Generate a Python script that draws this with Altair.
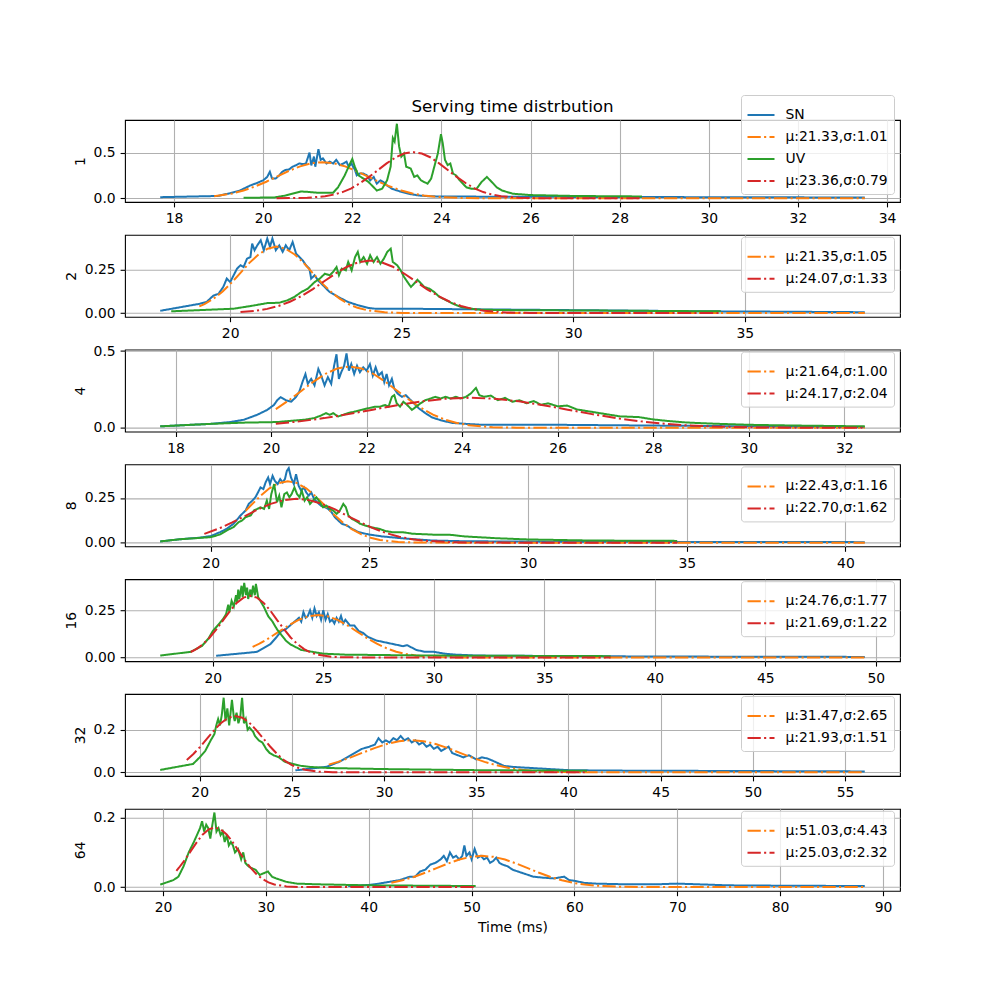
import altair as alt
import pandas as pd

# ---------------- data ----------------
P1_SN = [(17.69,0.012),(18.98,0.025),(19.25,0.055),(19.48,0.085),(19.71,0.14),(19.86,0.167),(20.0,0.196),(20.09,0.233),(20.15,0.29),(20.2,0.215),(20.28,0.215),(20.36,0.25),(20.43,0.29),(20.5,0.31),(20.58,0.315),(20.66,0.345),(20.73,0.36),(20.81,0.38),(20.89,0.374),(20.96,0.38),(21.04,0.5),(21.08,0.36),(21.14,0.455),(21.17,0.345),(21.24,0.537),(21.29,0.42),(21.34,0.437),(21.42,0.38),(21.49,0.4),(21.57,0.38),(21.64,0.42),(21.72,0.363),(21.8,0.38),(21.87,0.4),(21.92,0.345),(21.98,0.38),(22.06,0.31),(22.1,0.25),(22.17,0.27),(22.25,0.27),(22.33,0.25),(22.4,0.196),(22.48,0.233),(22.55,0.16),(22.63,0.196),(22.7,0.178),(22.78,0.14),(22.89,0.104),(23.05,0.078),(23.27,0.048),(23.5,0.03),(23.73,0.022),(24.03,0.019),(24.79,0.018),(26.0,0.016),(28.0,0.014),(30.0,0.012),(32.0,0.01),(33.5,0.008)]
P1_UV = [(19.56,0.006),(20.24,0.008),(20.5,0.03),(20.85,0.074),(21.0,0.07),(21.23,0.06),(21.57,0.06),(21.68,0.12),(21.83,0.25),(21.95,0.38),(22.0,0.43),(22.06,0.34),(22.14,0.25),(22.25,0.215),(22.36,0.18),(22.48,0.12),(22.55,0.085),(22.67,0.104),(22.78,0.196),(22.86,0.345),(22.91,0.66),(22.95,0.62),(23.0,0.815),(23.05,0.567),(23.1,0.455),(23.16,0.49),(23.21,0.345),(23.31,0.326),(23.39,0.233),(23.46,0.25),(23.54,0.196),(23.61,0.178),(23.69,0.16),(23.77,0.215),(23.84,0.345),(23.92,0.49),(23.99,0.7),(24.03,0.6),(24.08,0.42),(24.14,0.363),(24.2,0.38),(24.26,0.27),(24.33,0.25),(24.41,0.196),(24.48,0.16),(24.56,0.12),(24.67,0.104),(24.79,0.104),(24.9,0.178),(25.02,0.233),(25.13,0.178),(25.24,0.12),(25.36,0.085),(25.6,0.05),(26.0,0.035),(27.0,0.025),(28.5,0.02)]
P1_FIT1 = [(18.9,0.022),(19.31,0.053),(19.56,0.085),(19.81,0.128),(20.07,0.181),(20.32,0.240),(20.57,0.298),(20.83,0.349),(21.08,0.383),(21.33,0.395),(21.58,0.383),(21.84,0.349),(22.09,0.298),(22.34,0.240),(22.59,0.181),(22.85,0.128),(23.10,0.085),(23.35,0.053),(23.6,0.031),(23.86,0.017),(24.36,0.0044),(24.87,0.0009),(26.0,0.0),(33.5,0.0)]
P1_FIT2 = [(20.3,0.0003),(20.99,0.0056),(21.39,0.022),(21.58,0.040),(21.78,0.068),(21.98,0.109),(22.17,0.164),(22.37,0.231),(22.57,0.306),(22.77,0.381),(22.97,0.446),(23.16,0.489),(23.36,0.505),(23.56,0.489),(23.76,0.446),(23.95,0.381),(24.15,0.306),(24.35,0.231),(24.55,0.164),(24.74,0.109),(24.94,0.068),(25.14,0.040),(25.34,0.022),(25.73,0.0056),(26.12,0.0011),(27.0,0.0),(28.5,0.0)]

P2_SN = [(17.96,0.013),(19.11,0.053),(19.31,0.063),(19.51,0.1),(19.66,0.11),(19.8,0.15),(19.9,0.197),(20.0,0.177),(20.1,0.216),(20.2,0.254),(20.3,0.273),(20.39,0.263),(20.49,0.311),(20.59,0.32),(20.64,0.397),(20.71,0.359),(20.79,0.387),(20.89,0.416),(20.98,0.359),(21.08,0.426),(21.16,0.378),(21.23,0.426),(21.33,0.359),(21.43,0.387),(21.53,0.35),(21.62,0.387),(21.72,0.359),(21.82,0.406),(21.92,0.34),(22.02,0.32),(22.12,0.3),(22.21,0.273),(22.31,0.254),(22.36,0.197),(22.46,0.216),(22.56,0.187),(22.71,0.158),(22.9,0.12),(23.15,0.092),(23.44,0.063),(23.74,0.044),(24.04,0.029),(24.23,0.025),(25.02,0.025),(28.0,0.02),(31.0,0.015),(34.0,0.01),(36.0,0.008),(38.5,0.005)]
P2_UV = [(18.28,0.01),(20.1,0.025),(20.59,0.04),(21.08,0.057),(21.43,0.059),(21.67,0.073),(21.87,0.092),(22.07,0.12),(22.26,0.139),(22.46,0.177),(22.61,0.197),(22.76,0.225),(22.9,0.216),(23.0,0.235),(23.1,0.263),(23.17,0.216),(23.25,0.254),(23.37,0.244),(23.44,0.292),(23.54,0.244),(23.64,0.32),(23.72,0.35),(23.79,0.292),(23.89,0.32),(23.99,0.282),(24.08,0.33),(24.18,0.292),(24.28,0.32),(24.38,0.282),(24.48,0.311),(24.58,0.35),(24.68,0.368),(24.74,0.292),(24.87,0.273),(24.97,0.244),(25.07,0.206),(25.17,0.177),(25.27,0.149),(25.36,0.168),(25.46,0.19),(25.56,0.17),(25.66,0.149),(25.81,0.139),(25.95,0.12),(26.1,0.092),(26.3,0.073),(26.5,0.053),(26.74,0.034),(27.2,0.02),(28.0,0.017),(31.0,0.014),(34.3,0.01)]
P2_FIT1 = [(19.1,0.038),(19.25,0.051),(19.51,0.082),(19.78,0.123),(20.04,0.174),(20.3,0.230),(20.56,0.287),(20.83,0.335),(21.09,0.368),(21.35,0.380),(21.61,0.368),(21.88,0.335),(22.14,0.287),(22.4,0.230),(22.66,0.174),(22.93,0.123),(23.19,0.082),(23.45,0.051),(23.71,0.030),(23.98,0.017),(24.5,0.0042),(25.03,0.0008),(26.0,0.0),(38.5,0.0)]
P2_FIT2 = [(20.3,0.0055),(20.75,0.0132),(21.08,0.0239),(21.41,0.0406),(21.74,0.0649),(22.08,0.0974),(22.41,0.137),(22.74,0.182),(23.07,0.226),(23.41,0.265),(23.74,0.291),(24.07,0.300),(24.4,0.291),(24.74,0.265),(25.07,0.226),(25.4,0.182),(25.73,0.137),(26.07,0.0974),(26.4,0.0649),(26.73,0.0406),(27.06,0.0239),(27.4,0.0132),(28.06,0.0033),(28.73,0.0007),(30.0,0.0),(34.3,0.0)]

P3_SN = [(17.68,0.01),(18.73,0.026),(19.15,0.038),(19.43,0.053),(19.71,0.085),(19.92,0.117),(20.06,0.149),(20.13,0.18),(20.2,0.2),(20.31,0.18),(20.42,0.17),(20.52,0.2),(20.59,0.234),(20.66,0.3),(20.72,0.35),(20.77,0.287),(20.84,0.319),(20.91,0.277),(20.99,0.383),(21.05,0.34),(21.12,0.277),(21.19,0.33),(21.26,0.287),(21.32,0.404),(21.37,0.479),(21.42,0.319),(21.47,0.362),(21.53,0.404),(21.58,0.485),(21.63,0.372),(21.68,0.415),(21.74,0.351),(21.8,0.404),(21.86,0.362),(21.93,0.394),(22.0,0.372),(22.07,0.415),(22.13,0.34),(22.19,0.394),(22.25,0.34),(22.32,0.362),(22.37,0.298),(22.42,0.351),(22.47,0.277),(22.53,0.319),(22.58,0.255),(22.65,0.223),(22.74,0.202),(22.82,0.213),(22.89,0.191),(22.99,0.16),(23.09,0.128),(23.23,0.096),(23.37,0.068),(23.58,0.047),(23.8,0.032),(24.08,0.026),(24.36,0.021),(26.0,0.02),(28.0,0.015),(30.0,0.01),(32.43,0.005)]
P3_UV = [(17.68,0.01),(18.73,0.026),(19.43,0.034),(20.13,0.038),(20.7,0.053),(20.91,0.064),(21.05,0.081),(21.15,0.096),(21.23,0.085),(21.3,0.096),(21.4,0.074),(21.51,0.085),(21.61,0.096),(21.75,0.106),(21.89,0.117),(22.04,0.128),(22.18,0.138),(22.28,0.138),(22.39,0.149),(22.46,0.138),(22.53,0.202),(22.58,0.213),(22.63,0.16),(22.7,0.138),(22.77,0.17),(22.85,0.149),(22.95,0.117),(23.04,0.138),(23.13,0.16),(23.23,0.18),(23.34,0.191),(23.44,0.202),(23.55,0.191),(23.65,0.202),(23.76,0.191),(23.87,0.202),(23.97,0.191),(24.08,0.202),(24.18,0.223),(24.29,0.26),(24.36,0.213),(24.46,0.202),(24.6,0.21),(24.75,0.18),(24.9,0.195),(25.05,0.17),(25.2,0.18),(25.35,0.16),(25.5,0.175),(25.65,0.15),(25.8,0.16),(26.0,0.14),(26.2,0.145),(26.4,0.12),(26.6,0.11),(26.8,0.1),(27.0,0.09),(27.3,0.075),(27.7,0.07),(28.0,0.055),(28.3,0.045),(28.7,0.035),(29.2,0.028),(30.0,0.02),(31.0,0.015),(32.43,0.01)]
P3_FIT1 = [(20.1,0.122),(20.39,0.183),(20.64,0.242),(20.89,0.301),(21.14,0.352),(21.39,0.387),(21.64,0.399),(21.89,0.387),(22.14,0.352),(22.39,0.301),(22.64,0.242),(22.89,0.183),(23.14,0.130),(23.39,0.086),(23.64,0.054),(23.89,0.032),(24.14,0.0175),(24.64,0.0044),(25.14,0.0009),(26.0,0.0),(32.43,0.0)]
P3_FIT2 = [(20.1,0.0265),(20.6,0.0423),(21.11,0.0635),(21.62,0.0895),(22.13,0.1186),(22.64,0.1476),(23.15,0.1726),(23.66,0.1896),(24.17,0.1956),(24.68,0.1896),(25.19,0.1726),(25.7,0.1476),(26.21,0.1186),(26.72,0.0895),(27.23,0.0635),(27.74,0.0423),(28.25,0.0265),(28.76,0.0156),(29.27,0.0086),(30.29,0.0022),(31.31,0.0004),(32.43,0.0)]

P4_SN = [(18.41,0.007),(19.02,0.019),(19.66,0.028),(20.0,0.037),(20.3,0.059),(20.51,0.078),(20.72,0.106),(20.94,0.152),(21.1,0.18),(21.2,0.217),(21.31,0.235),(21.41,0.254),(21.49,0.281),(21.57,0.309),(21.66,0.3),(21.73,0.337),(21.81,0.365),(21.87,0.328),(21.95,0.374),(22.02,0.346),(22.11,0.328),(22.19,0.356),(22.27,0.337),(22.34,0.356),(22.4,0.402),(22.46,0.417),(22.53,0.365),(22.62,0.328),(22.69,0.383),(22.77,0.319),(22.85,0.291),(22.94,0.309),(23.01,0.281),(23.09,0.263),(23.17,0.281),(23.26,0.244),(23.36,0.226),(23.47,0.207),(23.6,0.198),(23.7,0.189),(23.81,0.17),(23.91,0.143),(24.02,0.124),(24.13,0.106),(24.29,0.096),(24.45,0.078),(24.66,0.059),(24.98,0.046),(25.4,0.035),(25.94,0.026),(26.36,0.02),(27.0,0.012),(28.0,0.008),(30.0,0.006),(35.0,0.004),(40.61,0.003)]
P4_UV = [(18.41,0.007),(19.02,0.019),(20.0,0.031),(20.3,0.046),(20.51,0.069),(20.72,0.087),(20.88,0.115),(20.99,0.124),(21.1,0.143),(21.26,0.152),(21.36,0.18),(21.47,0.189),(21.57,0.198),(21.68,0.189),(21.77,0.235),(21.84,0.189),(21.91,0.272),(22.0,0.328),(22.09,0.226),(22.16,0.263),(22.23,0.198),(22.32,0.272),(22.4,0.281),(22.48,0.254),(22.55,0.272),(22.64,0.309),(22.72,0.272),(22.8,0.254),(22.87,0.291),(22.96,0.235),(23.04,0.254),(23.13,0.217),(23.22,0.235),(23.33,0.254),(23.44,0.226),(23.54,0.198),(23.65,0.207),(23.76,0.189),(23.86,0.18),(23.97,0.161),(24.07,0.18),(24.18,0.217),(24.26,0.198),(24.34,0.152),(24.45,0.133),(24.55,0.124),(24.71,0.106),(24.87,0.096),(25.03,0.087),(25.3,0.078),(25.51,0.065),(25.72,0.059),(26.04,0.059),(26.36,0.05),(27.0,0.045),(27.5,0.045),(28.0,0.035),(29.0,0.025),(30.0,0.018),(32.0,0.012),(34.7,0.01)]
P4_FIT1 = [(21.1,0.178),(21.27,0.209),(21.56,0.260),(21.85,0.304),(22.14,0.333),(22.43,0.344),(22.72,0.333),(23.01,0.304),(23.3,0.260),(23.59,0.209),(23.88,0.157),(24.17,0.112),(24.46,0.074),(24.75,0.0466),(25.04,0.0274),(25.33,0.0151),(25.91,0.0038),(26.49,0.0008),(28.0,0.0),(40.61,0.0)]
P4_FIT2 = [(19.8,0.049),(20.27,0.080),(20.68,0.113),(21.08,0.149),(21.49,0.186),(21.89,0.217),(22.3,0.238),(22.7,0.246),(23.1,0.238),(23.51,0.217),(23.92,0.186),(24.32,0.149),(24.73,0.113),(25.13,0.080),(25.54,0.053),(25.94,0.033),(26.35,0.0196),(26.75,0.0108),(27.56,0.0027),(28.37,0.0005),(30.0,0.0),(34.7,0.0)]

P5_SN = [(20.15,0.009),(21.6,0.025),(22.0,0.03),(22.3,0.05),(22.6,0.07),(22.9,0.11),(23.1,0.14),(23.3,0.15),(23.5,0.17),(23.7,0.19),(23.9,0.21),(24.0,0.19),(24.1,0.24),(24.2,0.21),(24.3,0.22),(24.4,0.25),(24.5,0.21),(24.6,0.26),(24.7,0.22),(24.8,0.24),(24.9,0.20),(25.0,0.25),(25.1,0.20),(25.2,0.23),(25.3,0.19),(25.4,0.20),(25.5,0.18),(25.6,0.21),(25.7,0.19),(25.8,0.22),(25.9,0.18),(26.0,0.2),(26.2,0.17),(26.4,0.17),(26.6,0.14),(26.8,0.13),(27.0,0.11),(27.2,0.10),(27.4,0.09),(27.8,0.08),(28.2,0.07),(28.6,0.06),(28.8,0.065),(29.2,0.04),(29.6,0.03),(30.0,0.03),(30.5,0.02),(31.0,0.015),(32.0,0.01),(40.0,0.005),(49.5,0.003)]
P5_UV = [(17.62,0.01),(19.0,0.03),(19.5,0.06),(19.8,0.1),(20.0,0.14),(20.3,0.18),(20.5,0.21),(20.6,0.23),(20.7,0.28),(20.75,0.24),(20.85,0.3),(20.95,0.27),(21.05,0.33),(21.1,0.29),(21.15,0.36),(21.2,0.31),(21.3,0.38),(21.35,0.32),(21.42,0.395),(21.5,0.33),(21.55,0.37),(21.6,0.31),(21.7,0.36),(21.75,0.32),(21.82,0.38),(21.9,0.33),(21.95,0.39),(22.05,0.32),(22.15,0.3),(22.3,0.27),(22.5,0.22),(22.7,0.19),(22.9,0.15),(23.1,0.12),(23.3,0.09),(23.5,0.07),(24.0,0.04),(24.5,0.03),(25.0,0.02),(26.0,0.015),(30.0,0.01),(38.0,0.007)]
P5_FIT1 = [(21.8,0.056),(22.11,0.0732),(22.55,0.103),(22.99,0.137),(23.43,0.170),(23.88,0.199),(24.32,0.218),(24.76,0.2254),(25.2,0.218),(25.65,0.199),(26.09,0.170),(26.53,0.137),(26.97,0.103),(27.42,0.0732),(27.86,0.0488),(28.3,0.0305),(28.75,0.0179),(29.19,0.0099),(30.07,0.0025),(30.96,0.0005),(33.0,0.0),(49.5,0.0)]
P5_FIT2 = [(19.0,0.029),(19.25,0.0442),(19.56,0.0707),(19.86,0.106),(20.17,0.150),(20.47,0.198),(20.78,0.247),(21.08,0.289),(21.39,0.317),(21.69,0.327),(22.0,0.317),(22.3,0.289),(22.61,0.247),(22.91,0.198),(23.22,0.150),(23.52,0.106),(23.83,0.0707),(24.13,0.0442),(24.44,0.026),(24.74,0.0144),(25.35,0.0036),(25.96,0.0007),(28.0,0.0),(38.0,0.0)]

P6_SN = [(25.19,0.009),(26.9,0.026),(27.3,0.04),(27.6,0.05),(28.0,0.07),(28.4,0.09),(28.8,0.11),(29.2,0.12),(29.5,0.13),(29.7,0.16),(29.9,0.14),(30.1,0.15),(30.3,0.14),(30.5,0.16),(30.7,0.15),(30.9,0.17),(31.1,0.15),(31.3,0.16),(31.5,0.14),(31.7,0.15),(31.9,0.13),(32.1,0.14),(32.3,0.12),(32.5,0.13),(32.7,0.11),(32.9,0.12),(33.1,0.10),(33.3,0.11),(33.5,0.12),(33.7,0.09),(34.0,0.08),(34.3,0.07),(34.6,0.08),(35.0,0.06),(35.3,0.07),(35.6,0.065),(36.0,0.05),(36.5,0.03),(37.0,0.025),(38.0,0.02),(39.0,0.015),(40.0,0.01),(42.0,0.008),(56.07,0.004)]
P6_UV = [(17.86,0.011),(19.64,0.039),(20.0,0.07),(20.3,0.1),(20.6,0.15),(20.8,0.18),(20.9,0.22),(21.0,0.25),(21.1,0.22),(21.2,0.27),(21.3,0.35),(21.4,0.24),(21.5,0.30),(21.6,0.22),(21.75,0.34),(21.85,0.26),(21.9,0.24),(22.0,0.28),(22.1,0.23),(22.2,0.26),(22.3,0.35),(22.4,0.23),(22.5,0.25),(22.6,0.2),(22.7,0.21),(22.9,0.19),(23.0,0.17),(23.2,0.15),(23.4,0.14),(23.6,0.11),(23.8,0.09),(24.0,0.08),(24.3,0.07),(24.6,0.05),(25.0,0.04),(25.5,0.03),(26.0,0.025),(27.0,0.02),(30.0,0.015),(35.0,0.01),(41.0,0.007)]
P6_FIT1 = [(27.0,0.036),(27.5,0.0489),(28.16,0.0689),(28.82,0.0913),(29.48,0.1136),(30.15,0.1328),(30.81,0.1459),(31.47,0.1505),(32.13,0.1459),(32.8,0.1328),(33.46,0.1136),(34.12,0.0913),(34.78,0.0689),(35.45,0.0489),(36.11,0.0326),(36.77,0.0204),(37.43,0.0120),(38.1,0.0066),(39.42,0.0017),(40.75,0.0003),(43.0,0.0),(56.07,0.0)]
P6_FIT2 = [(19.3,0.058),(19.66,0.0857),(20.04,0.121),(20.42,0.160),(20.8,0.199),(21.18,0.233),(21.55,0.256),(21.93,0.264),(22.31,0.256),(22.69,0.233),(23.06,0.199),(23.44,0.160),(23.82,0.121),(24.2,0.0857),(24.57,0.0571),(24.95,0.0357),(25.33,0.0210),(25.71,0.0116),(26.46,0.0029),(27.22,0.0006),(30.0,0.0),(41.0,0.0)]

P7_SN = [(38.0,0.003),(40.0,0.006),(41.0,0.01),(42.0,0.015),(43.0,0.02),(44.0,0.03),(44.5,0.03),(45.0,0.045),(45.5,0.05),(46.0,0.065),(46.5,0.07),(47.0,0.08),(47.3,0.09),(47.6,0.075),(47.9,0.1),(48.2,0.085),(48.5,0.09),(48.8,0.08),(49.1,0.09),(49.3,0.12),(49.5,0.09),(49.8,0.1),(50.0,0.08),(50.3,0.11),(50.6,0.085),(50.9,0.09),(51.2,0.08),(51.5,0.085),(51.8,0.07),(52.1,0.075),(52.4,0.085),(52.7,0.07),(53.0,0.065),(53.5,0.06),(54.0,0.05),(54.5,0.045),(55.0,0.04),(56.0,0.03),(57.0,0.027),(58.0,0.025),(59.0,0.03),(59.5,0.02),(60.0,0.018),(61.0,0.012),(62.0,0.01),(65.0,0.008),(68.0,0.008),(70.0,0.01),(72.0,0.008),(75.0,0.005),(80.0,0.004),(88.23,0.003)]
P7_UV = [(19.73,0.007),(20.5,0.015),(21.0,0.02),(21.5,0.03),(22.0,0.06),(22.5,0.10),(23.0,0.13),(23.3,0.15),(23.6,0.17),(23.8,0.19),(24.0,0.16),(24.2,0.18),(24.4,0.17),(24.6,0.14),(24.8,0.18),(25.0,0.215),(25.2,0.16),(25.4,0.17),(25.6,0.15),(25.8,0.16),(26.0,0.13),(26.2,0.15),(26.4,0.12),(26.6,0.13),(26.8,0.12),(27.0,0.10),(27.3,0.11),(27.6,0.08),(27.8,0.10),(28.0,0.07),(28.3,0.06),(28.6,0.055),(29.0,0.05),(29.4,0.035),(29.8,0.04),(30.2,0.045),(30.6,0.03),(31.0,0.025),(32.0,0.015),(33.0,0.01),(35.0,0.008),(40.0,0.005),(50.4,0.003)]
P7_FIT1 = [(42.2,0.0122),(43.28,0.0195),(44.38,0.0292),(45.49,0.0412),(46.6,0.0546),(47.71,0.0679),(48.82,0.0794),(49.92,0.0872),(51.03,0.090),(52.14,0.0872),(53.25,0.0794),(54.35,0.0679),(55.46,0.0546),(56.57,0.0412),(57.68,0.0292),(58.78,0.0195),(59.89,0.0122),(61.0,0.0072),(62.1,0.0040),(64.3,0.0010),(66.5,0.0002),(70.0,0.0),(88.23,0.0)]
P7_FIT2 = [(21.3,0.047),(21.55,0.0558),(22.13,0.0787),(22.71,0.1043),(23.29,0.1298),(23.87,0.1518),(24.45,0.1667),(25.03,0.172),(25.61,0.1667),(26.19,0.1518),(26.77,0.1298),(27.35,0.1043),(27.93,0.0787),(28.51,0.0558),(29.09,0.0372),(29.67,0.0233),(30.25,0.0137),(30.83,0.0075),(31.99,0.0019),(33.15,0.0004),(36.0,0.0),(50.4,0.0)]

PANEL_NAMES = ["1", "2", "4", "8", "16", "32", "64"]
FIT1_LABELS = ["μ:21.33,σ:1.01", "μ:21.35,σ:1.05", "μ:21.64,σ:1.00", "μ:22.43,σ:1.16",
               "μ:24.76,σ:1.77", "μ:31.47,σ:2.65", "μ:51.03,σ:4.43"]
FIT2_LABELS = ["μ:23.36,σ:0.79", "μ:24.07,σ:1.33", "μ:24.17,σ:2.04", "μ:22.70,σ:1.62",
               "μ:21.69,σ:1.22", "μ:21.93,σ:1.51", "μ:25.03,σ:2.32"]
X_TICKS = [[18, 20, 22, 24, 26, 28, 30, 32, 34], [20, 25, 30, 35], [18, 20, 22, 24, 26, 28, 30, 32],
           [20, 25, 30, 35, 40], [20, 25, 30, 35, 40, 45, 50], [20, 25, 30, 35, 40, 45, 50, 55],
           [20, 30, 40, 50, 60, 70, 80, 90]]
Y_TICKS = [[0.0, 0.5], [0.0, 0.25], [0.0, 0.5], [0.0, 0.25], [0.0, 0.25], [0.0, 0.2], [0.0, 0.2]]
Y_FORMATS = [".1f", ".2f", ".1f", ".2f", ".2f", ".1f", ".1f"]
TITLE = "Serving time distrbution"
X_TITLE = "Time (ms)"

SERIES = [(P1_SN, P1_FIT1, P1_UV, P1_FIT2), (P2_SN, P2_FIT1, P2_UV, P2_FIT2),
          (P3_SN, P3_FIT1, P3_UV, P3_FIT2), (P4_SN, P4_FIT1, P4_UV, P4_FIT2),
          (P5_SN, P5_FIT1, P5_UV, P5_FIT2), (P6_SN, P6_FIT1, P6_UV, P6_FIT2),
          (P7_SN, P7_FIT1, P7_UV, P7_FIT2)]

COLORS = ["#1f77b4", "#ff7f0e", "#2ca02c", "#d62728"]
DASHDOT = [13.3, 3.3, 2.1, 3.3]
DASHES = [[1, 0], DASHDOT, [1, 0], DASHDOT]

W, H = 775, 82
FONT = "DejaVu Sans"
LW = 2.0


def pad_domain(vals):
    lo, hi = min(vals), max(vals)
    m = 0.05 * (hi - lo)
    return [lo - m, hi + m]


def panel(i):
    sn, f1, uv, f2 = SERIES[i]
    names = ["SN", FIT1_LABELS[i], "UV", FIT2_LABELS[i]]
    allpts = sn + f1 + uv + f2
    xdom = pad_domain([p[0] for p in allpts])
    ydom = pad_domain([p[1] for p in allpts])
    first = i == 0
    last = i == len(SERIES) - 1
    legend = alt.Legend(
        orient="none", legendX=616, legendY=-25 if first else 2,
        values=names if first else [names[1], names[3]], title=None,
        symbolType="stroke", symbolSize=729, symbolStrokeWidth=LW,
        labelFont=FONT, labelFontSize=13.9, labelColor="black", labelLimit=300,
        rowPadding=0, padding=5.5, fillColor="rgba(255,255,255,0.8)",
        strokeColor="#cccccc", cornerRadius=3, labelOffset=10,
    )
    color = alt.Color("s:N", scale=alt.Scale(domain=names, range=COLORS), legend=legend)
    dash = alt.StrokeDash("s:N", scale=alt.Scale(domain=names, range=DASHES), legend=legend)
    xaxis = alt.Axis(values=X_TICKS[i], format="d", title=X_TITLE) if last else \
        alt.Axis(values=X_TICKS[i], format="d", title=None)
    x = alt.X("x:Q", scale=alt.Scale(domain=xdom, nice=False, zero=False), axis=xaxis)
    y = alt.Y("y:Q", scale=alt.Scale(domain=ydom, nice=False, zero=False),
              axis=alt.Axis(values=Y_TICKS[i], format=Y_FORMATS[i], title=PANEL_NAMES[i]))
    layers = []
    for name, pts in zip(names, [sn, f1, uv, f2]):
        df = pd.DataFrame({"x": [p[0] for p in pts], "y": [p[1] for p in pts], "s": name})
        layers.append(alt.Chart(df).mark_line(strokeWidth=LW, clip=True)
                      .encode(x=x, y=y, color=color, strokeDash=dash))
    if first:
        t = alt.Chart(alt.InlineData(values=[{"t": TITLE}])).mark_text(
            font=FONT, fontSize=16.7, align="center", baseline="alphabetic", color="black"
        ).encode(x=alt.value(W / 2), y=alt.value(-8.3), text="t:N")
        layers.append(t)
    return alt.layer(*layers).properties(width=W, height=H)


chart = alt.vconcat(*[panel(i) for i in range(7)], spacing=32.8, bounds="flush").resolve_scale(
    x="independent", y="independent", color="independent", strokeDash="independent"
).resolve_legend(color="independent", strokeDash="independent").configure_view(
    stroke="black", strokeWidth=1.1
).configure_axis(
    labelFont=FONT, labelFontSize=13.9, labelColor="black", titleFont=FONT, titleFontSize=13.9,
    titleFontWeight="normal", titleColor="black", tickColor="black", tickSize=4.9, tickWidth=1.1,
    domain=False, grid=True, gridColor="#b0b0b0", gridWidth=1.1, labelPadding=4.9,
    titlePadding=5.6, labelOverlap=False
).properties(
    padding={"left": 64, "top": 93, "right": 10, "bottom": 10}, background="white"
)

chart.save("out.html", embed_options={"renderer": "svg", "actions": False})
